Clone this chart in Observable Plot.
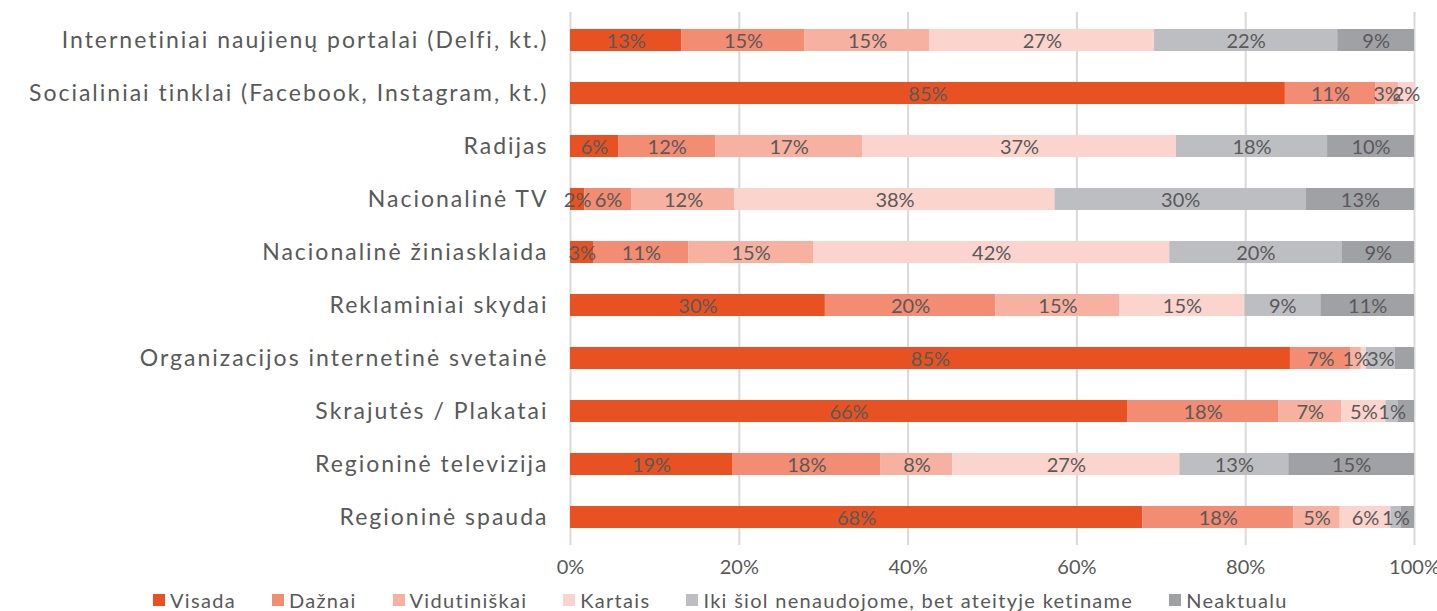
<!DOCTYPE html>
<html>
<head>
<meta charset="utf-8">
<script src="https://cdn.jsdelivr.net/npm/d3@7"></script>
<script src="https://cdn.jsdelivr.net/npm/@observablehq/plot@0.6"></script>
<style>
  html, body { margin: 0; padding: 0; background: #fff; }
  #wrap { width: 1437px; height: 611px; position: relative; overflow: hidden; font-family: Lato, "Noto Sans", sans-serif; }
  #legend { position: absolute; left: 153px; top: 587px; display: flex; align-items: center; white-space: nowrap;
            font-size: 20px; color: #595959; line-height: 26px; letter-spacing: 1.3px; }
  .item { display: flex; align-items: center; margin-right: 36px; }
  .sw { width: 12px; height: 12px; margin-right: 5px; display: inline-block; }
  g[aria-label="y-axis tick label"] text { letter-spacing: 2px; }
</style>
</head>
<body>
<div id="wrap"><div id="chart"></div><div id="legend"></div></div>
<script>
// ---- data ----
const categories = [
  "Internetiniai naujienų portalai (Delfi, kt.)",
  "Socialiniai tinklai (Facebook, Instagram, kt.)",
  "Radijas",
  "Nacionalinė TV",
  "Nacionalinė žiniasklaida",
  "Reklaminiai skydai",
  "Organizacijos internetinė svetainė",
  "Skrajutės / Plakatai",
  "Regioninė televizija",
  "Regioninė spauda"
];
const seriesNames = ["Visada", "Dažnai", "Vidutiniškai", "Kartais", "Iki šiol nenaudojome, bet ateityje ketiname", "Neaktualu"];
const seriesColors = ["#E85222", "#F28C73", "#F6B1A0", "#FBD4CD", "#BDBEC2", "#A0A1A5"];

const visada       = [13.2, 84.7,  5.7,  1.7,  2.8, 30.2, 85.3, 66.0, 19.2, 67.8];
const daznai       = [14.6, 10.7, 11.5,  5.6, 11.2, 20.2,  7.2, 17.9, 17.6, 17.9];
const vidutiniskai = [14.8,  2.7, 17.4, 12.2, 14.8, 14.7,  1.2,  7.5,  8.5,  5.5];
const kartais      = [26.6,  1.9, 37.2, 37.9, 42.2, 14.8,  0.6,  5.2, 26.9,  6.0];
const ikiSiol      = [21.7,  0.0, 17.9, 29.8, 20.4,  9.0,  3.4,  1.5, 12.9,  1.2];
const neaktualu    = [ 9.1,  0.0, 10.3, 12.8,  8.6, 11.1,  2.3,  1.9, 14.9,  1.6];

// data labels as printed in the chart (null = no label shown)
const visadaLbl       = [13, 85, 6, 2, 3, 30, 85, 66, 19, 68];
const daznaiLbl       = [15, 11, 12, 6, 11, 20, 7, 18, 18, 18];
const vidutiniskaiLbl = [15, 3, 17, 12, 15, 15, 1, 7, 8, 5];
const kartaisLbl      = [27, 2, 37, 38, 42, 15, null, 5, 27, 6];
const ikiSiolLbl      = [22, null, 18, 30, 20, 9, 3, 1, 13, 1];
const neaktualuLbl    = [9, null, 10, 13, 9, 11, null, null, 15, null];

const xTicks = [0, 20, 40, 60, 80, 100];

// ---- build table ----
const seriesValues = [visada, daznai, vidutiniskai, kartais, ikiSiol, neaktualu];
const seriesLabels = [visadaLbl, daznaiLbl, vidutiniskaiLbl, kartaisLbl, ikiSiolLbl, neaktualuLbl];
const rows = [];
categories.forEach((c, i) => {
  seriesNames.forEach((s, j) => {
    rows.push({cat: c, series: s, value: seriesValues[j][i],
               label: seriesLabels[j][i] == null ? "" : seriesLabels[j][i] + "%"});
  });
});

const chart = Plot.plot({
  width: 1437,
  height: 585,
  marginTop: 12,
  marginBottom: 40,
  marginLeft: 570,
  marginRight: 23,
  style: {fontFamily: "Lato, 'Noto Sans', sans-serif", color: "#595959", background: "#fff", overflow: "visible"},
  x: {domain: [0, 1], label: null},
  y: {domain: categories, paddingInner: 0.58, paddingOuter: 0.29, label: null},
  color: {domain: seriesNames, range: seriesColors},
  marks: [
    Plot.gridX(xTicks.map(t => t / 100), {stroke: "#D9D9D9", strokeOpacity: 1, strokeWidth: 2}),
    Plot.barX(rows, Plot.stackX({x: "value", y: "cat", fill: "series", offset: "normalize", order: seriesNames})),
    Plot.text(rows, Plot.stackX({x: "value", y: "cat", z: "series", text: "label", offset: "normalize", order: seriesNames,
      fill: "#595959", fontSize: 20, dy: 1})),
    Plot.axisX(xTicks.map(t => t / 100), {tickSize: 0, tickPadding: 14, fontSize: 20, fill: "#595959", label: null,
      tickFormat: d => Math.round(d * 100) + "%"}),
    Plot.axisY({tickSize: 0, tickPadding: 22, fontSize: 23, fill: "#595959", label: null})
  ]
});
document.getElementById("chart").appendChild(chart);

const legend = document.getElementById("legend");
seriesNames.forEach((s, i) => {
  const it = document.createElement("span");
  it.className = "item";
  const sw = document.createElement("span");
  sw.className = "sw";
  sw.style.background = seriesColors[i];
  it.appendChild(sw);
  it.appendChild(document.createTextNode(s));
  legend.appendChild(it);
});
</script>
</body>
</html>
